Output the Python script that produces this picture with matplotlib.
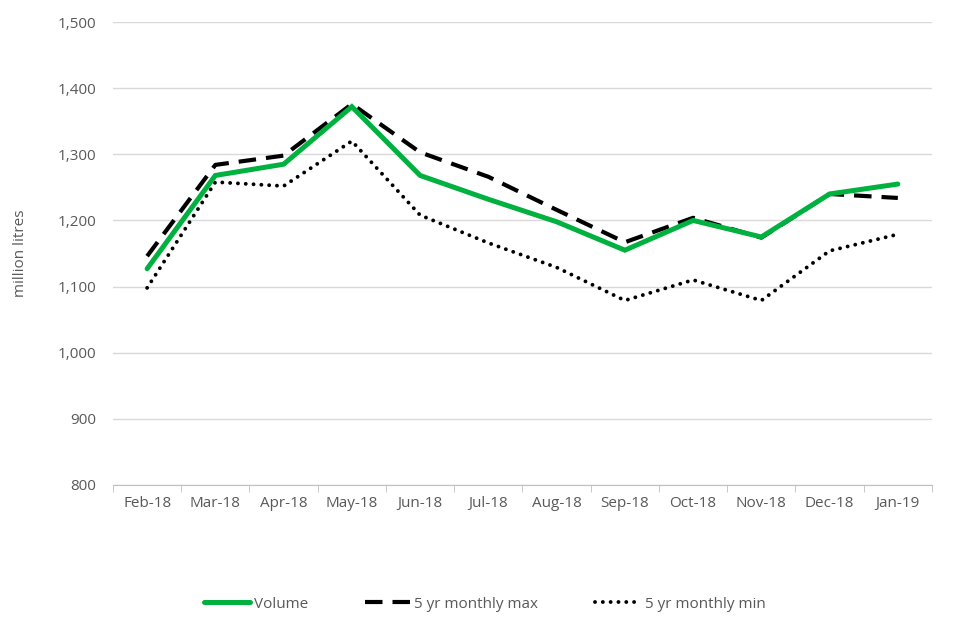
import numpy as np
import matplotlib.pyplot as plt
from matplotlib.ticker import FuncFormatter

plt.rcParams['font.family'] = ['Open Sans', 'DejaVu Sans']

months = ['Feb-18', 'Mar-18', 'Apr-18', 'May-18', 'Jun-18', 'Jul-18',
          'Aug-18', 'Sep-18', 'Oct-18', 'Nov-18', 'Dec-18', 'Jan-19']
volume = [1127, 1268, 1285, 1372, 1268, 1232, 1198, 1155, 1200, 1175, 1240, 1255]
max_5yr = [1146, 1284, 1298, 1376, 1303, 1266, 1216, 1167, 1204, 1174, 1240, 1234]
min_5yr = [1098, 1258, 1252, 1320, 1208, 1166, 1129, 1079, 1110, 1079, 1154, 1179]

x = np.arange(len(months))
grey = '#595959'
fs = 11

fig = plt.figure(figsize=(9.6, 6.4), dpi=100)
ax = fig.add_axes([0.1177, 0.2422, 0.8531, 0.7234])

ax.plot(x, volume, color='#00B140', lw=3.6, label='Volume', zorder=4,
        solid_capstyle='round', solid_joinstyle='miter')
ax.plot(x, max_5yr, color='black', lw=3.0, linestyle=(0, (4.2, 2.4)),
        label='5 yr monthly max', zorder=3, dash_capstyle='butt')
ax.plot(x, min_5yr, color='black', lw=2.8, linestyle=(0, (0.01, 2.0)),
        label='5 yr monthly min', zorder=3, dash_capstyle='round')

ax.set_xlim(-0.5, len(months) - 0.5)
ax.set_ylim(800, 1500)
ax.set_yticks(range(800, 1501, 100))
ax.yaxis.set_major_formatter(FuncFormatter(lambda v, p: f'{int(v):,}'))
ax.set_xticks(x)
ax.set_xticklabels(months)
ax.set_xticks(np.arange(-0.5, len(months)), minor=True)

ax.grid(axis='y', color='#D9D9D9', lw=1)
ax.set_axisbelow(True)
for s in ['top', 'right', 'left']:
    ax.spines[s].set_visible(False)
ax.spines['bottom'].set_color('#BFBFBF')

ax.tick_params(axis='y', length=0, labelsize=fs, labelcolor=grey, pad=12)
ax.tick_params(axis='x', which='major', length=0, labelsize=fs,
               labelcolor=grey, pad=8)
ax.tick_params(axis='x', which='minor', length=5, color='#BFBFBF')
ax.set_ylabel('million litres', fontsize=fs, color=grey, labelpad=21)

fig.legend(loc='center', bbox_to_anchor=(0.505, 0.056), ncol=3, frameon=False,
           fontsize=fs, handlelength=3.0, columnspacing=3.7, handletextpad=0.25,
           labelcolor=grey)

fig.savefig('out.png', dpi=100)
